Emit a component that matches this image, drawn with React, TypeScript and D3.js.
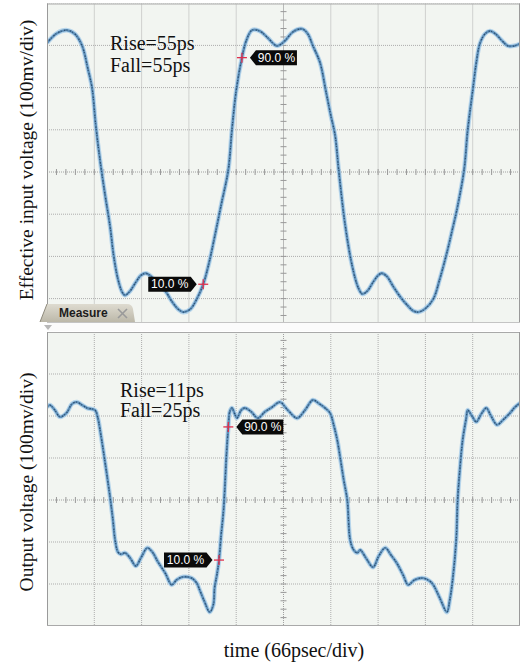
import React from "react";
import * as d3 from "d3";

// ---- data (time in ps, voltage in mV) ----
const inputTime = [0, 14, 28, 39, 49, 57, 63, 68, 74, 81, 88, 93, 99, 105, 109, 116, 124, 131, 138, 145, 153, 165, 174, 183, 190, 200, 209, 218, 226, 234, 243, 253, 258, 264, 272, 278, 286, 297, 308, 321, 332, 343, 356, 364, 371, 381, 389, 396, 402, 407, 416, 426, 434, 440, 447, 455, 462, 467, 474, 483, 493, 504, 511, 518, 527, 539, 548, 558, 565, 572, 582, 587, 594, 599, 604, 611, 618, 626, 635, 643, 652, 660];
const inputVoltage = [306, 329, 336, 327, 299, 245, 198, 111, 28, -54, -129, -198, -254, -285, -292, -282, -261, -245, -240, -247, -264, -282, -306, -325, -332, -325, -301, -266, -216, -153, -78, 5, 99, 193, 271, 311, 336, 334, 318, 299, 311, 332, 339, 327, 299, 259, 193, 134, 87, 5, -125, -224, -273, -289, -282, -261, -245, -240, -247, -271, -296, -318, -329, -332, -325, -301, -254, -191, -141, -89, 5, 99, 193, 259, 304, 327, 334, 327, 311, 299, 299, 304];

const outputTime = [0, 4, 11, 18, 27, 35, 42, 49, 56, 67, 71, 74, 81, 88, 92, 95, 99, 103, 109, 116, 124, 131, 140, 147, 155, 165, 174, 181, 190, 202, 209, 213, 220, 227, 232, 234, 237, 240, 243, 246, 248, 250, 253, 255, 258, 262, 265, 271, 276, 285, 294, 304, 314, 325, 336, 349, 360, 371, 380, 388, 395, 400, 405, 409, 414, 419, 423, 428, 433, 437, 445, 455, 463, 472, 480, 488, 497, 504, 513, 525, 534, 539, 548, 558, 562, 566, 571, 573, 576, 580, 585, 587, 593, 599, 606, 613, 619, 628, 636, 646, 653, 660];
const outputVoltage = [221, 226, 214, 198, 207, 229, 233, 226, 219, 214, 195, 167, 90, 7, -48, -95, -124, -129, -126, -138, -157, -138, -114, -124, -148, -174, -202, -190, -183, -186, -198, -214, -243, -267, -250, -207, -179, -143, -83, -31, 24, 95, 174, 210, 219, 205, 195, 214, 219, 210, 195, 210, 221, 233, 214, 195, 214, 238, 229, 219, 207, 179, 143, 102, 48, 0, -95, -119, -126, -119, -138, -160, -133, -114, -131, -150, -179, -202, -190, -186, -193, -202, -233, -267, -238, -190, -95, 0, 71, 143, 195, 214, 200, 186, 205, 219, 202, 179, 190, 207, 221, 231];

const markerLabels = ["90.0 %", "10.0 %"];
const inputMarkerTime = [272, 218];
const inputMarkerVolt = [271, -266];
const outputMarkerTime = [253, 240];
const outputMarkerVolt = [174, -143];

const inputNotes = ["Rise=55ps", "Fall=55ps"];
const outputNotes = ["Rise=11ps", "Fall=25ps"];

const timeDivs = d3.range(0, 11).map((k) => k * 66);
const voltDivs = d3.range(-4, 5).map((k) => k * 100);

// ---- layout ----
const W = 522;
const H = 663;
const XL = 47;
const XR = 520;
const x = d3.scaleLinear().domain([0, 660]).range([XL, XR]);

const SERIF = "'Liberation Serif', 'Times New Roman', serif";
const SANS = "'Liberation Sans', Arial, sans-serif";

type PanelProps = {
  id: string;
  y: d3.ScaleLinear<number, number>;
  top: number;
  bottom: number;
  times: number[];
  volts: number[];
  mt: number[];
  mv: number[];
  notes: string[];
  noteX: number;
  noteY: number[];
  bottomBorder: boolean;
};

function Panel(p: PanelProps) {
  const { y, top, bottom } = p;
  const pts = p.times.map((t, i) => [t, p.volts[i]] as [number, number]);
  const line = d3
    .line<[number, number]>()
    .x((d) => x(d[0]))
    .y((d) => y(d[1]))
    .curve(d3.curveCatmullRom.alpha(0.5));
  const path = line(pts) || "";
  const cx = x(330);
  const cy = y(0);
  const vTicks = d3.range(0, 50 + 1).map((k) => x(k * 13.2));
  const hTicks = d3.range(-20, 21).map((k) => y(k * 20)).filter((v) => v >= top && v <= bottom);

  return (
    <g>
      <defs>
        <clipPath id={p.id}>
          <rect x={XL} y={top} width={XR - XL} height={bottom - top} />
        </clipPath>
      </defs>
      <rect x={XL} y={top} width={XR - XL} height={bottom - top} fill="#f2f5f1" />
      <g clipPath={`url(#${p.id})`}>
        {timeDivs.slice(1, -1).map((t) => (
          <line key={"v" + t} x1={x(t)} x2={x(t)} y1={top} y2={bottom} stroke="#adadad" strokeWidth={1} strokeDasharray="1 1" />
        ))}
        {voltDivs.filter((v) => v !== 0).map((v) => (
          <line key={"h" + v} x1={XL} x2={XR} y1={y(v)} y2={y(v)} stroke="#adadad" strokeWidth={1} strokeDasharray="1 1" />
        ))}
        <line x1={XL} x2={XR} y1={cy} y2={cy} stroke="#a0a0a0" strokeWidth={1} strokeDasharray="1 1" />
        <line x1={cx} x2={cx} y1={top} y2={bottom} stroke="#a0a0a0" strokeWidth={1} strokeDasharray="1 1" />
        {vTicks.map((tx, i) => (
          <line key={"tx" + i} x1={tx} x2={tx} y1={cy - 3} y2={cy + 3} stroke="#999" strokeWidth={1} />
        ))}
        {hTicks.map((ty, i) => (
          <line key={"ty" + i} x1={cx - 3} x2={cx + 3} y1={ty} y2={ty} stroke="#999" strokeWidth={1} />
        ))}
        <path d={path} fill="none" stroke="#a8cdea" strokeWidth={4.6} strokeLinejoin="round" opacity={0.8} />
        <path d={path} fill="none" stroke="#5f90b9" strokeWidth={2.4} strokeLinejoin="round" />
        <path d={path} fill="none" stroke="#2c4f72" strokeWidth={1.2} strokeDasharray="1 2.3 1.5 1.2" />
      </g>
      <line x1={XL} x2={XR} y1={top + 0.5} y2={top + 0.5} stroke="#a9a9a9" />
      <line x1={XL + 0.5} x2={XL + 0.5} y1={top} y2={bottom} stroke="#9a9a9a" />
      <line x1={XR - 0.5} x2={XR - 0.5} y1={top} y2={bottom} stroke="#9a9a9a" />
      {p.bottomBorder && <line x1={XL} x2={XR} y1={bottom - 0.5} y2={bottom - 0.5} stroke="#a9a9a9" />}
      {p.notes.map((n, i) => (
        <text key={n} x={p.noteX} y={p.noteY[i]} fontFamily={SERIF} fontSize={20} fill="#111">
          {n}
        </text>
      ))}
      {p.mt.map((t, i) => {
        const mx = x(t);
        const my = y(p.mv[i]);
        const right = i === 0;
        const h = 7.5;
        const shape = right
          ? `M${mx + 8},${my} L${mx + 14},${my - h} L${mx + 55},${my - h} L${mx + 55},${my + h} L${mx + 14},${my + h} Z`
          : `M${mx - 6.5},${my} L${mx - 12.5},${my - h} L${mx - 55},${my - h} L${mx - 55},${my + h} L${mx - 12.5},${my + h} Z`;
        const tx = right ? mx + 34.5 : mx - 33.5;
        return (
          <g key={"m" + i}>
            <path d={shape} fill="#0a0a0a" />
            <text x={tx} y={my + 4.2} textAnchor="middle" fontFamily={SANS} fontSize={12} fill="#fff">
              {markerLabels[i]}
            </text>
            <line x1={mx - 5} x2={mx + 5} y1={my} y2={my} stroke="#e0304c" strokeWidth={1.3} />
            <line x1={mx} x2={mx} y1={my - 5} y2={my + 5} stroke="#e0304c" strokeWidth={1.3} />
          </g>
        );
      })}
    </g>
  );
}

export default function App() {
  const yIn = d3.scaleLinear().domain([-400, 400]).range([172 + 4 * 42.2, 172 - 4 * 42.2]);
  const yOut = d3.scaleLinear().domain([-300, 400]).range([626, 332]);
  return (
    <svg
      width={W}
      height={H}
      viewBox={`0 0 ${W} ${H}`}
      style={{ position: "absolute", left: 0, top: 0, background: "#fff" }}
    >
      <rect x={0} y={0} width={W} height={H} fill="#fff" />
      <Panel
        id="clipIn"
        y={yIn}
        top={3.5}
        bottom={322}
        times={inputTime}
        volts={inputVoltage}
        mt={inputMarkerTime}
        mv={inputMarkerVolt}
        notes={inputNotes}
        noteX={110}
        noteY={[50, 72]}
        bottomBorder={false}
      />
      <Panel
        id="clipOut"
        y={yOut}
        top={332}
        bottom={626}
        times={outputTime}
        volts={outputVoltage}
        mt={outputMarkerTime}
        mv={outputMarkerVolt}
        notes={outputNotes}
        noteX={120}
        noteY={[397, 417]}
        bottomBorder={true}
      />
      {/* strip between panels and Measure tab */}
      <rect x={XL} y={322} width={XR - XL} height={9} fill="#fbfbfb" />
      <line x1={XL} x2={XR} y1={322.5} y2={322.5} stroke="#c4c4c4" />
      <path d={`M44,325 L52,325 L48,330 Z`} fill="#b8b8b8" />
      <defs>
        <linearGradient id="tabGrad" x1="0" y1="0" x2="0" y2="1">
          <stop offset="0" stopColor="#dedbd0" />
          <stop offset="1" stopColor="#bcb8a9" />
        </linearGradient>
      </defs>
      <path d="M40,322 L47,304 L127,304 Q132,304 133,309 L135,322 Z" fill="url(#tabGrad)" />
      <line x1={40} y1={322} x2={47} y2={304} stroke="#8e8a7c" strokeWidth={1} />
      <text x={59} y={317} fontFamily={SANS} fontWeight="bold" fontSize={12} fill="#1c1c1c">
        Measure
      </text>
      <line x1={118} y1={309} x2={127} y2={318} stroke="#9a9a9a" strokeWidth={1.6} />
      <line x1={127} y1={309} x2={118} y2={318} stroke="#9a9a9a" strokeWidth={1.6} />
      {/* axis titles */}
      <text
        transform="translate(33,160) rotate(-90)"
        textAnchor="middle"
        fontFamily={SERIF}
        fontSize={19.5}
        fill="#111"
      >
        Effective input voltage (100mv/div)
      </text>
      <text
        transform="translate(33,482) rotate(-90)"
        textAnchor="middle"
        fontFamily={SERIF}
        fontSize={19.5}
        fill="#111"
      >
        Output voltage (100mv/div)
      </text>
      <text x={294} y={657} textAnchor="middle" fontFamily={SERIF} fontSize={20} fill="#111">
        time (66psec/div)
      </text>
    </svg>
  );
}
